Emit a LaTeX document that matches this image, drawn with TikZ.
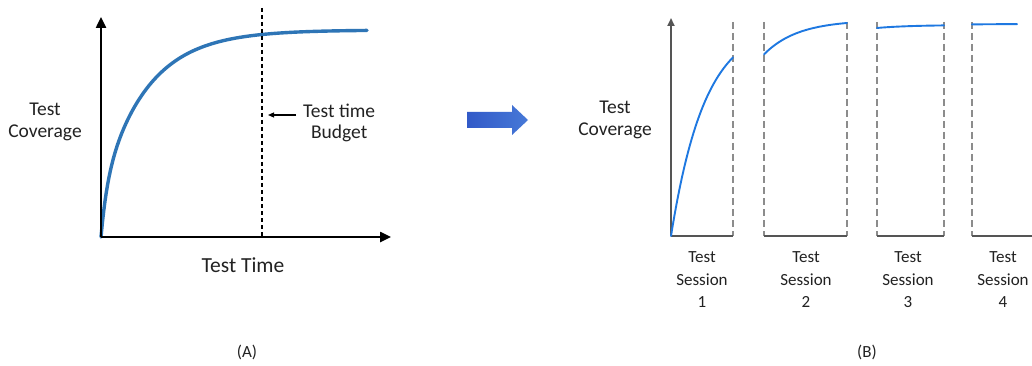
\documentclass[tikz,border=0pt]{standalone}
\usepackage{fontspec}
\setmainfont{Carlito}
\usetikzlibrary{arrows.meta}
\definecolor{curveA}{RGB}{46,117,182}
\definecolor{curveB}{RGB}{30,120,225}
\definecolor{axisgray}{RGB}{85,85,85}
\definecolor{dashgray}{RGB}{140,140,140}
\definecolor{txt}{RGB}{34,34,34}
\definecolor{arrowL}{RGB}{50,90,200}
\definecolor{arrowR}{RGB}{70,120,215}
\tikzset{
  lbl/.style={text=txt, align=center, inner sep=0pt, font=\fontsize{19.5}{21.5}\selectfont},
  sesslbl/.style={text=txt, align=center, inner sep=0pt, font=\fontsize{17}{22.5}\selectfont},
  axisA/.style={line width=2.4pt, black, -{Triangle[length=11pt,width=10pt]}},
  axisB/.style={line width=1.8pt, axisgray, -{Triangle[length=8pt,width=7pt]}},
  baseB/.style={line width=1.8pt, axisgray},
  budget/.style={line width=1.2pt, black, dash pattern=on 4pt off 3pt},
  sessionedge/.style={line width=1.2pt, dashgray, dash pattern=on 7pt off 4pt},
  curvA/.style={line width=3.4pt, curveA, line cap=round, line join=round},
  curvB/.style={line width=1.9pt, curveB, line cap=round, line join=round},
}
\begin{document}
\begin{tikzpicture}[x=1pt, y=-1pt]
\useasboundingbox (0,0) rectangle (1032,366);
\fill[white] (0,0) rectangle (1032,366);

% ---------- (A) single session ----------
\coordinate (oA) at (101,237);
\coordinate (yA) at (101,17);
\coordinate (xA) at (391,237);
\coordinate (bTop) at (262,8);
\coordinate (bBot) at (262,237);
% coverage grows quickly at first, then saturates
\draw[curvA] plot[domain=0:266, samples=200]
  ({101+\x}, {237-207*(1-0.22*exp(-\x/6)-0.78*exp(-\x/45))});
\draw[budget] (bTop) -- (bBot);
\draw[axisA] (oA) -- (yA);
\draw[axisA] (oA) -- (xA);

\node[lbl] (covA) at (45,122) {Test\\Coverage};
\node[lbl, anchor=west] (budgetlbl) at (303,123) {Test time\\Budget};
\coordinate (bArrowEnd) at (268,115);
\draw[line width=1.2pt, black, -{Triangle[length=6pt,width=5pt]}]
  (296,115) -- (bArrowEnd);
\node[lbl, font=\fontsize{21.5}{24}\selectfont] (timeA) at (243,265) {Test Time};
\node[sesslbl] (capA) at (247,352) {(A)};

% ---------- block arrow ----------
\shade[left color=arrowL, right color=arrowR]
  (467,112) -- (512,112) -- (512,105) -- (528,120) -- (512,135)
  -- (512,128) -- (467,128) -- cycle;

% ---------- (B) split into sessions ----------
\coordinate (oB) at (671,236);
\coordinate (yB) at (671,18);
\coordinate (s1r) at (733,236);
\coordinate (s2l) at (764,236);
\coordinate (s2r) at (847,236);
\coordinate (s3l) at (877,236);
\coordinate (s3r) at (944,236);
\coordinate (s4l) at (972,236);
\coordinate (s4r) at (1040,236);

\foreach \xx in {733,764,847,877,944,972}
  \draw[sessionedge] (\xx,22) -- (\xx,236);

\draw[baseB] (oB) -- (s1r);
\draw[baseB] (s2l) -- (s2r);
\draw[baseB] (s3l) -- (s3r);
\draw[baseB] (s4l) -- (s4r);
\draw[axisB] (oB) -- (yB);

\draw[curvB] plot[domain=0:62, samples=60]
  ({671+\x}, {236-213*(1-exp(-\x/34))});
\draw[curvB] plot[domain=62:145, samples=60]
  ({764-62+\x}, {233-213*(1-exp(-\x/34))});
\draw[curvB] plot[domain=145:212, samples=40]
  ({877-145+\x}, {238-213*(1-exp(-\x/34))});
\draw[curvB] plot[domain=212:257, samples=20]
  ({972-212+\x}, {237-213*(1-exp(-\x/34))});

\node[lbl] (covB) at (615,120) {Test\\Coverage};
\node[sesslbl] (sess1) at (702,280) {Test\\Session\\1};
\node[sesslbl] (sess2) at (806,280) {Test\\Session\\2};
\node[sesslbl] (sess3) at (908,280) {Test\\Session\\3};
\node[sesslbl] (sess4) at (1003,280) {Test\\Session\\4};
\node[sesslbl] (capB) at (867,352) {(B)};
\end{tikzpicture}
\end{document}
